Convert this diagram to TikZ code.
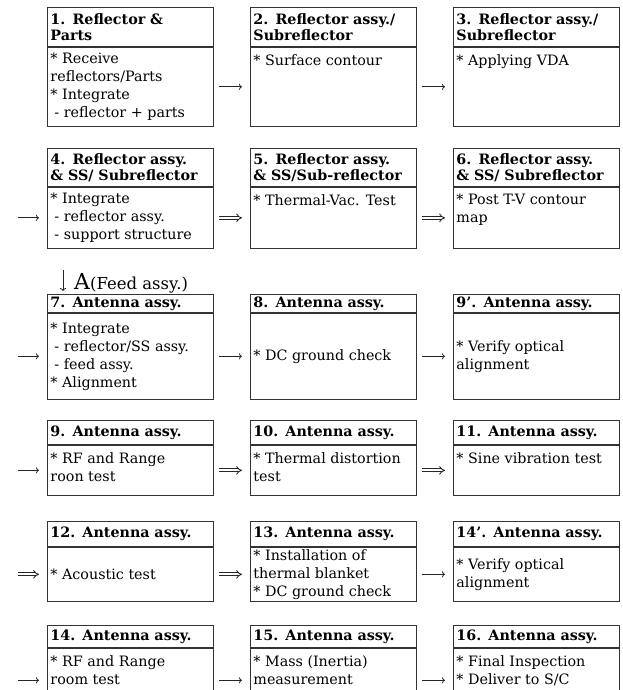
\documentclass[tikz,border=0pt]{standalone}
\usepackage{fontspec}
\setmainfont{DejaVu Serif}
\usetikzlibrary{positioning,arrows.meta}
\tikzset{
  head/.style = {draw=black!80, line width=.9pt, anchor=north west, text width=160pt,
                 inner xsep=3pt, inner ysep=1pt, align=left, minimum height=#1,
                 font=\fontsize{14.3}{16}\selectfont\bfseries},
  task/.style = {draw=black!80, line width=.9pt, inner xsep=3pt, inner ysep=2pt,
                 font=\fontsize{14.3}{18}\selectfont},
  flow/.style = {draw=black!85, line width=.8pt, -{To[length=3pt,width=6pt]},
                 shorten <=5pt, shorten >=8pt},
  dflow/.style = {draw=black!85, line width=.9pt, double, double distance=2pt,
                  -{Implies}, shorten <=5pt, shorten >=8pt},
}
\newcommand\steptext[3][t]{\parbox[c][#2pt][#1]{160pt}{\raggedright\ifx t#1\vspace*{5pt}\fi #3}}

\begin{document}
\begin{tikzpicture}[x=1pt,y=-1pt]
  \useasboundingbox (0,0) rectangle (623,690);
% row 1
  \node[head=39pt] (h1) at (47,7) {1. Reflector \&\\Parts};
  \node[head=39pt] (h2) at (250,7) {2. Reflector assy./\\Subreflector};
  \node[head=39pt] (h3) at (453,7) {3. Reflector assy./\\Subreflector};
  \node[task, below=0pt of h1] (b1) {\steptext[c]{75}{* Receive\\reflectors/Parts\\{*} Integrate\\\hspace*{4pt}- reflector + parts}};
  \node[task, below=0pt of h2] (b2) {\steptext{75}{* Surface contour}};
  \node[task, below=0pt of h3] (b3) {\steptext{75}{* Applying VDA}};
% row 2
  \node[head=38pt] (h4) at (47,148) {4. Reflector assy.\\\& SS/ Subreflector};
  \node[head=38pt] (h5) at (250,148) {5. Reflector assy.\\\& SS/Sub-reflector};
  \node[head=38pt] (h6) at (453,148) {6. Reflector assy.\\\& SS/ Subreflector};
  \node[task, below=0pt of h4] (b4) {\steptext[c]{57}{* Integrate\\\hspace*{4pt}- reflector assy.\\\hspace*{4pt}- support structure}};
  \node[task, below=0pt of h5] (b5) {\steptext{57}{* Thermal-Vac. Test}};
  \node[task, below=0pt of h6] (b6) {\steptext{57}{* Post T-V contour\\map}};
% feed assy.
  \coordinate (fa) at (63,270);
  \node[anchor=base west, inner sep=0pt] (feed) at (74,289)
    {{\fontsize{22}{22}\selectfont A}{\fontsize{16.5}{17}\selectfont(Feed assy.)}};
% row 3
  \node[head=18pt] (h7) at (47,294) {7. Antenna assy.};
  \node[head=18pt] (h8) at (250,294) {8. Antenna assy.};
  \node[head=18pt] (h9p) at (453,294) {9'. Antenna assy.};
  \node[task, below=0pt of h7] (b7) {\steptext[c]{82}{* Integrate\\\hspace*{4pt}- reflector/SS assy.\\\hspace*{4pt}- feed assy.\\{*} Alignment}};
  \node[task, below=0pt of h8] (b8) {\steptext[c]{82}{* DC ground check}};
  \node[task, below=0pt of h9p] (b9p) {\steptext[c]{82}{* Verify optical\\alignment}};
% row 4
  \node[head=24pt] (h9) at (47,420) {9. Antenna assy.};
  \node[head=24pt] (h10) at (250,420) {10. Antenna assy.};
  \node[head=24pt] (h11) at (453,420) {11. Antenna assy.};
  \node[task, below=0pt of h9] (b9) {\steptext{46}{* RF and Range\\roon test}};
  \node[task, below=0pt of h10] (b10) {\steptext{46}{* Thermal distortion\\test}};
  \node[task, below=0pt of h11] (b11) {\steptext{46}{* Sine vibration test}};
% row 5
  \node[head=25pt] (h12) at (47,521) {12. Antenna assy.};
  \node[head=25pt] (h13) at (250,521) {13. Antenna assy.};
  \node[head=25pt] (h14p) at (453,521) {14'. Antenna assy.};
  \node[task, below=0pt of h12] (b12) {\steptext[c]{50}{* Acoustic test}};
  \node[task, below=0pt of h13] (b13) {\steptext[c]{50}{* Installation of\\thermal blanket\\{*} DC ground check}};
  \node[task, below=0pt of h14p] (b14p) {\steptext[c]{50}{* Verify optical\\alignment}};
% row 6
  \node[head=22pt] (h14) at (47,625) {14. Antenna assy.};
  \node[head=22pt] (h15) at (250,625) {15. Antenna assy.};
  \node[head=22pt] (h16) at (453,625) {16. Antenna assy.};
  \node[task, below=0pt of h14] (b14) {\steptext{60}{* RF and Range\\room test}};
  \node[task, below=0pt of h15] (b15) {\steptext{60}{* Mass (Inertia)\\measurement}};
  \node[task, below=0pt of h16] (b16) {\steptext{60}{* Final Inspection\\{*} Deliver to S/C}};
% arrows
  \foreach \a/\b in {b1/b2,b2/b3,b7/b8,b8/b9p,b13/b14p,b14/b15,b15/b16}
    \draw[flow] (\a) -- (\b);
  \foreach \a/\b in {b4/b5,b5/b6,b9/b10,b10/b11,b12/b13}
    \draw[dflow] (\a) -- (\b);
  \foreach \b in {b4,b7,b9,b12,b14}
    \coordinate (in-\b) at ([xshift=-34pt]\b.west);
  \foreach \b in {b4,b7,b9,b14}
    \draw[flow] (in-\b) -- (\b);
  \draw[dflow] (in-b12) -- (b12);
  \draw[flow, shorten <=0pt, shorten >=3pt] (fa) -- (fa |- h7.north);
\end{tikzpicture}
\end{document}
